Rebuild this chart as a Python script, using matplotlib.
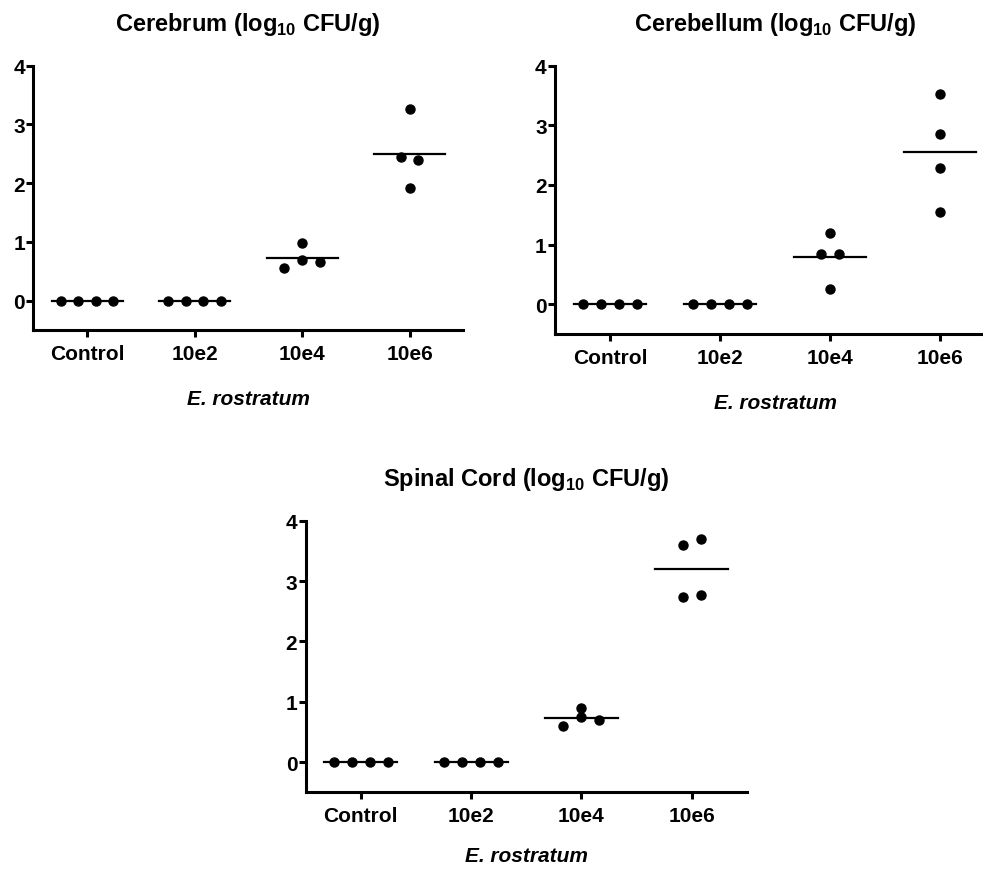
import numpy as np
import matplotlib
matplotlib.use("Agg")
import matplotlib.pyplot as plt

plt.rcParams['font.family'] = ['Liberation Sans', 'DejaVu Sans']
plt.rcParams['font.weight'] = 'bold'
plt.rcParams['mathtext.fontset'] = 'custom'
plt.rcParams['mathtext.rm'] = 'Liberation Sans:bold'
plt.rcParams['mathtext.bf'] = 'Liberation Sans:bold'

groups = ['Control', '10e2', '10e4', '10e6']
xlabel = 'E. rostratum'

cerebrum_title = r'Cerebrum (log$_{10}$ CFU/g)'
cerebrum = [
    [0, 0, 0, 0],
    [0, 0, 0, 0],
    [0.98, 0.56, 0.69, 0.65],
    [3.26, 2.44, 2.40, 1.91],
]

cerebellum_title = r'Cerebellum (log$_{10}$ CFU/g)'
cerebellum = [
    [0, 0, 0, 0],
    [0, 0, 0, 0],
    [1.19, 0.85, 0.85, 0.25],
    [3.52, 2.85, 2.28, 1.55],
]

spinal_title = r'Spinal Cord (log$_{10}$ CFU/g)'
spinal = [
    [0, 0, 0, 0],
    [0, 0, 0, 0],
    [0.90, 0.75, 0.60, 0.70],
    [3.59, 3.69, 2.74, 2.77],
]

# horizontal slot of each dot inside its column (column-scatter layout)
zero_slots = [-1.5, -0.5, 0.5, 1.5]
cerebrum_slots = [zero_slots, zero_slots, [0, -1, 0, 1], [0, -0.5, 0.5, 0]]
cerebellum_slots = [zero_slots, zero_slots, [0, -0.5, 0.5, 0], [0, 0, 0, 0]]
spinal_slots = [zero_slots, zero_slots, [0, 0, -1, 1], [-0.5, 0.5, -0.5, 0.5]]

W, H = 983, 870
fig = plt.figure(figsize=(W / 100, H / 100), dpi=100)


def panel(rect_px, title, data, slots, labelpad=19):
    left, top, right, bottom = rect_px
    ax = fig.add_axes([left / W, 1 - bottom / H, (right - left) / W, (bottom - top) / H])
    x = np.arange(len(groups))
    for i, vals in enumerate(data):
        xs = x[i] + 0.164 * np.array(slots[i])
        m = np.mean(vals)
        ax.plot([x[i] - 0.33, x[i] + 0.33], [m, m], color='black', lw=1.6, zorder=2)
        ax.plot(xs, vals, 'o', color='black', ms=6.5, zorder=3, clip_on=False)
    ax.set_xlim(-0.5, 3.5)
    ax.set_ylim(-0.5, 4)
    ax.set_yticks([0, 1, 2, 3, 4])
    ax.set_xticks(x)
    ax.set_xticklabels(groups)
    for s in ['top', 'right']:
        ax.spines[s].set_visible(False)
    for s in ['left', 'bottom']:
        ax.spines[s].set_linewidth(2.2)
    ax.tick_params(axis='both', width=2.2, length=5, labelsize=15)
    ax.tick_params(axis='y', pad=1)
    ax.tick_params(axis='x', pad=5)
    for lab in ax.get_xticklabels() + ax.get_yticklabels():
        lab.set_fontweight('bold')
    ax.set_xlabel(xlabel, fontsize=15, fontweight='bold', style='italic', labelpad=labelpad)
    ax.set_title(title, fontsize=17, fontweight='bold', pad=26)
    return ax


panel((33.3, 66.7, 463.3, 331), cerebrum_title, cerebrum, cerebrum_slots)
panel((555, 66.7, 995, 335), cerebellum_title, cerebellum, cerebellum_slots)
panel((305.7, 521.7, 746.8, 793.3), spinal_title, spinal, spinal_slots, labelpad=15)

fig.savefig('out.png', dpi=100)
